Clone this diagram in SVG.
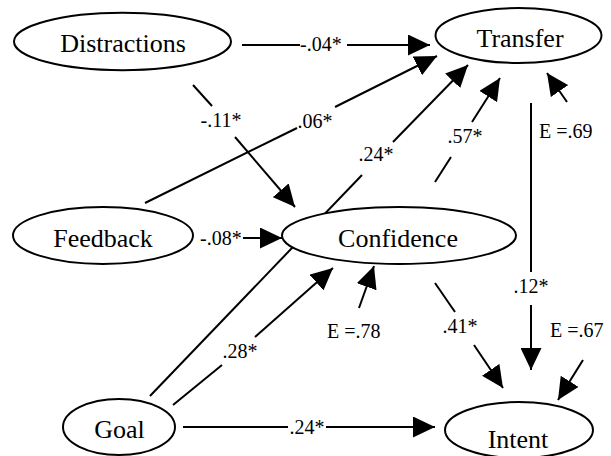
<svg xmlns="http://www.w3.org/2000/svg" width="611" height="456" viewBox="0 0 611 456" font-family="'Liberation Serif', 'Times New Roman', serif">
<style>
.node ellipse{fill:#fff;stroke:#000;stroke-width:2}
.nt{font-family:'Liberation Serif','Times New Roman',serif;font-size:26px;text-anchor:middle;fill:#000}
#connectors path{fill:none;stroke:#000;stroke-width:2}
#connectors path.a{marker-end:url(#arr)}
.lbl{font-family:'Liberation Serif','Times New Roman',serif;font-size:20px;fill:#000}
.c{text-anchor:middle}
</style>
<defs>
<marker id="arr" markerUnits="userSpaceOnUse" markerWidth="22" markerHeight="21" refX="22" refY="10.5" orient="auto">
<path d="M0,0 L22,10.5 L0,21 z" fill="#000"/>
</marker>
</defs>
<rect width="611" height="456" fill="#fff"/>
<g id="connectors">
<path d="M242,45 L300,45"/>
<path class="a" d="M347,45 L430,45"/>
<path d="M193,85 L212,106"/>
<path class="a" d="M235,137 L295,207"/>
<path d="M145,203 L297,128"/>
<path class="a" d="M335,107 L437,56"/>
<path d="M150,396 L362,175"/>
<path class="a" d="M393,142 L468,65"/>
<path class="a" d="M243,238 L282,238"/>
<path d="M435,182 L451,157"/>
<path class="a" d="M472,122 L500,78"/>
<path d="M531,103 L531,272"/>
<path class="a" d="M531,305 L531,370"/>
<path class="a" d="M567,102 L547,73"/>
<path class="a" d="M359,308 L374,266"/>
<path d="M173,405 L222,365"/>
<path class="a" d="M255,337 L333,268"/>
<path d="M435,283 L455,312"/>
<path class="a" d="M474,345 L503,388"/>
<path class="a" d="M583,360 L558,400"/>
<path d="M183,427 L288,427"/>
<path class="a" d="M326,427 L435,427"/>
<text class="lbl" x="300" y="51">-.04*</text>
<text class="lbl c" x="221" y="127">-.11*</text>
<text class="lbl c" x="315" y="128">.06*</text>
<text class="lbl c" x="376" y="161">.24*</text>
<text class="lbl" x="200" y="245">-.08*</text>
<text class="lbl c" x="465" y="143">.57*</text>
<text class="lbl c" x="531" y="293">.12*</text>
<text class="lbl" x="539" y="138">E =.69</text>
<text class="lbl" x="327" y="338">E =.78</text>
<text class="lbl c" x="240" y="358">.28*</text>
<text class="lbl c" x="460" y="333">.41*</text>
<text class="lbl" x="550" y="337">E =.67</text>
<text class="lbl c" x="307" y="434">.24*</text>
</g>
<g id="distractions" class="node"><ellipse cx="122.5" cy="41.5" rx="108.5" ry="28.7"/><text class="nt" x="123" y="52" font-family="Liberation Serif, serif">Distractions</text></g>
<g id="transfer" class="node"><ellipse cx="518.5" cy="35.5" rx="83" ry="27.5"/><text class="nt" x="520" y="47" font-family="Liberation Serif, serif">Transfer</text></g>
<g id="feedback" class="node"><ellipse cx="103" cy="235.5" rx="90" ry="28.5"/><text class="nt" x="103" y="247" font-family="Liberation Serif, serif">Feedback</text></g>
<g id="confidence" class="node"><ellipse cx="399" cy="235.5" rx="117" ry="28.5"/><text class="nt" x="398" y="247" font-family="Liberation Serif, serif">Confidence</text></g>
<g id="goal" class="node"><ellipse cx="119" cy="427" rx="56" ry="28"/><text class="nt" x="119.5" y="438" font-family="Liberation Serif, serif">Goal</text></g>
<g id="intent" class="node"><ellipse cx="519" cy="430" rx="74" ry="28"/><text class="nt" x="518" y="448" font-family="Liberation Serif, serif">Intent</text></g>
</svg>
